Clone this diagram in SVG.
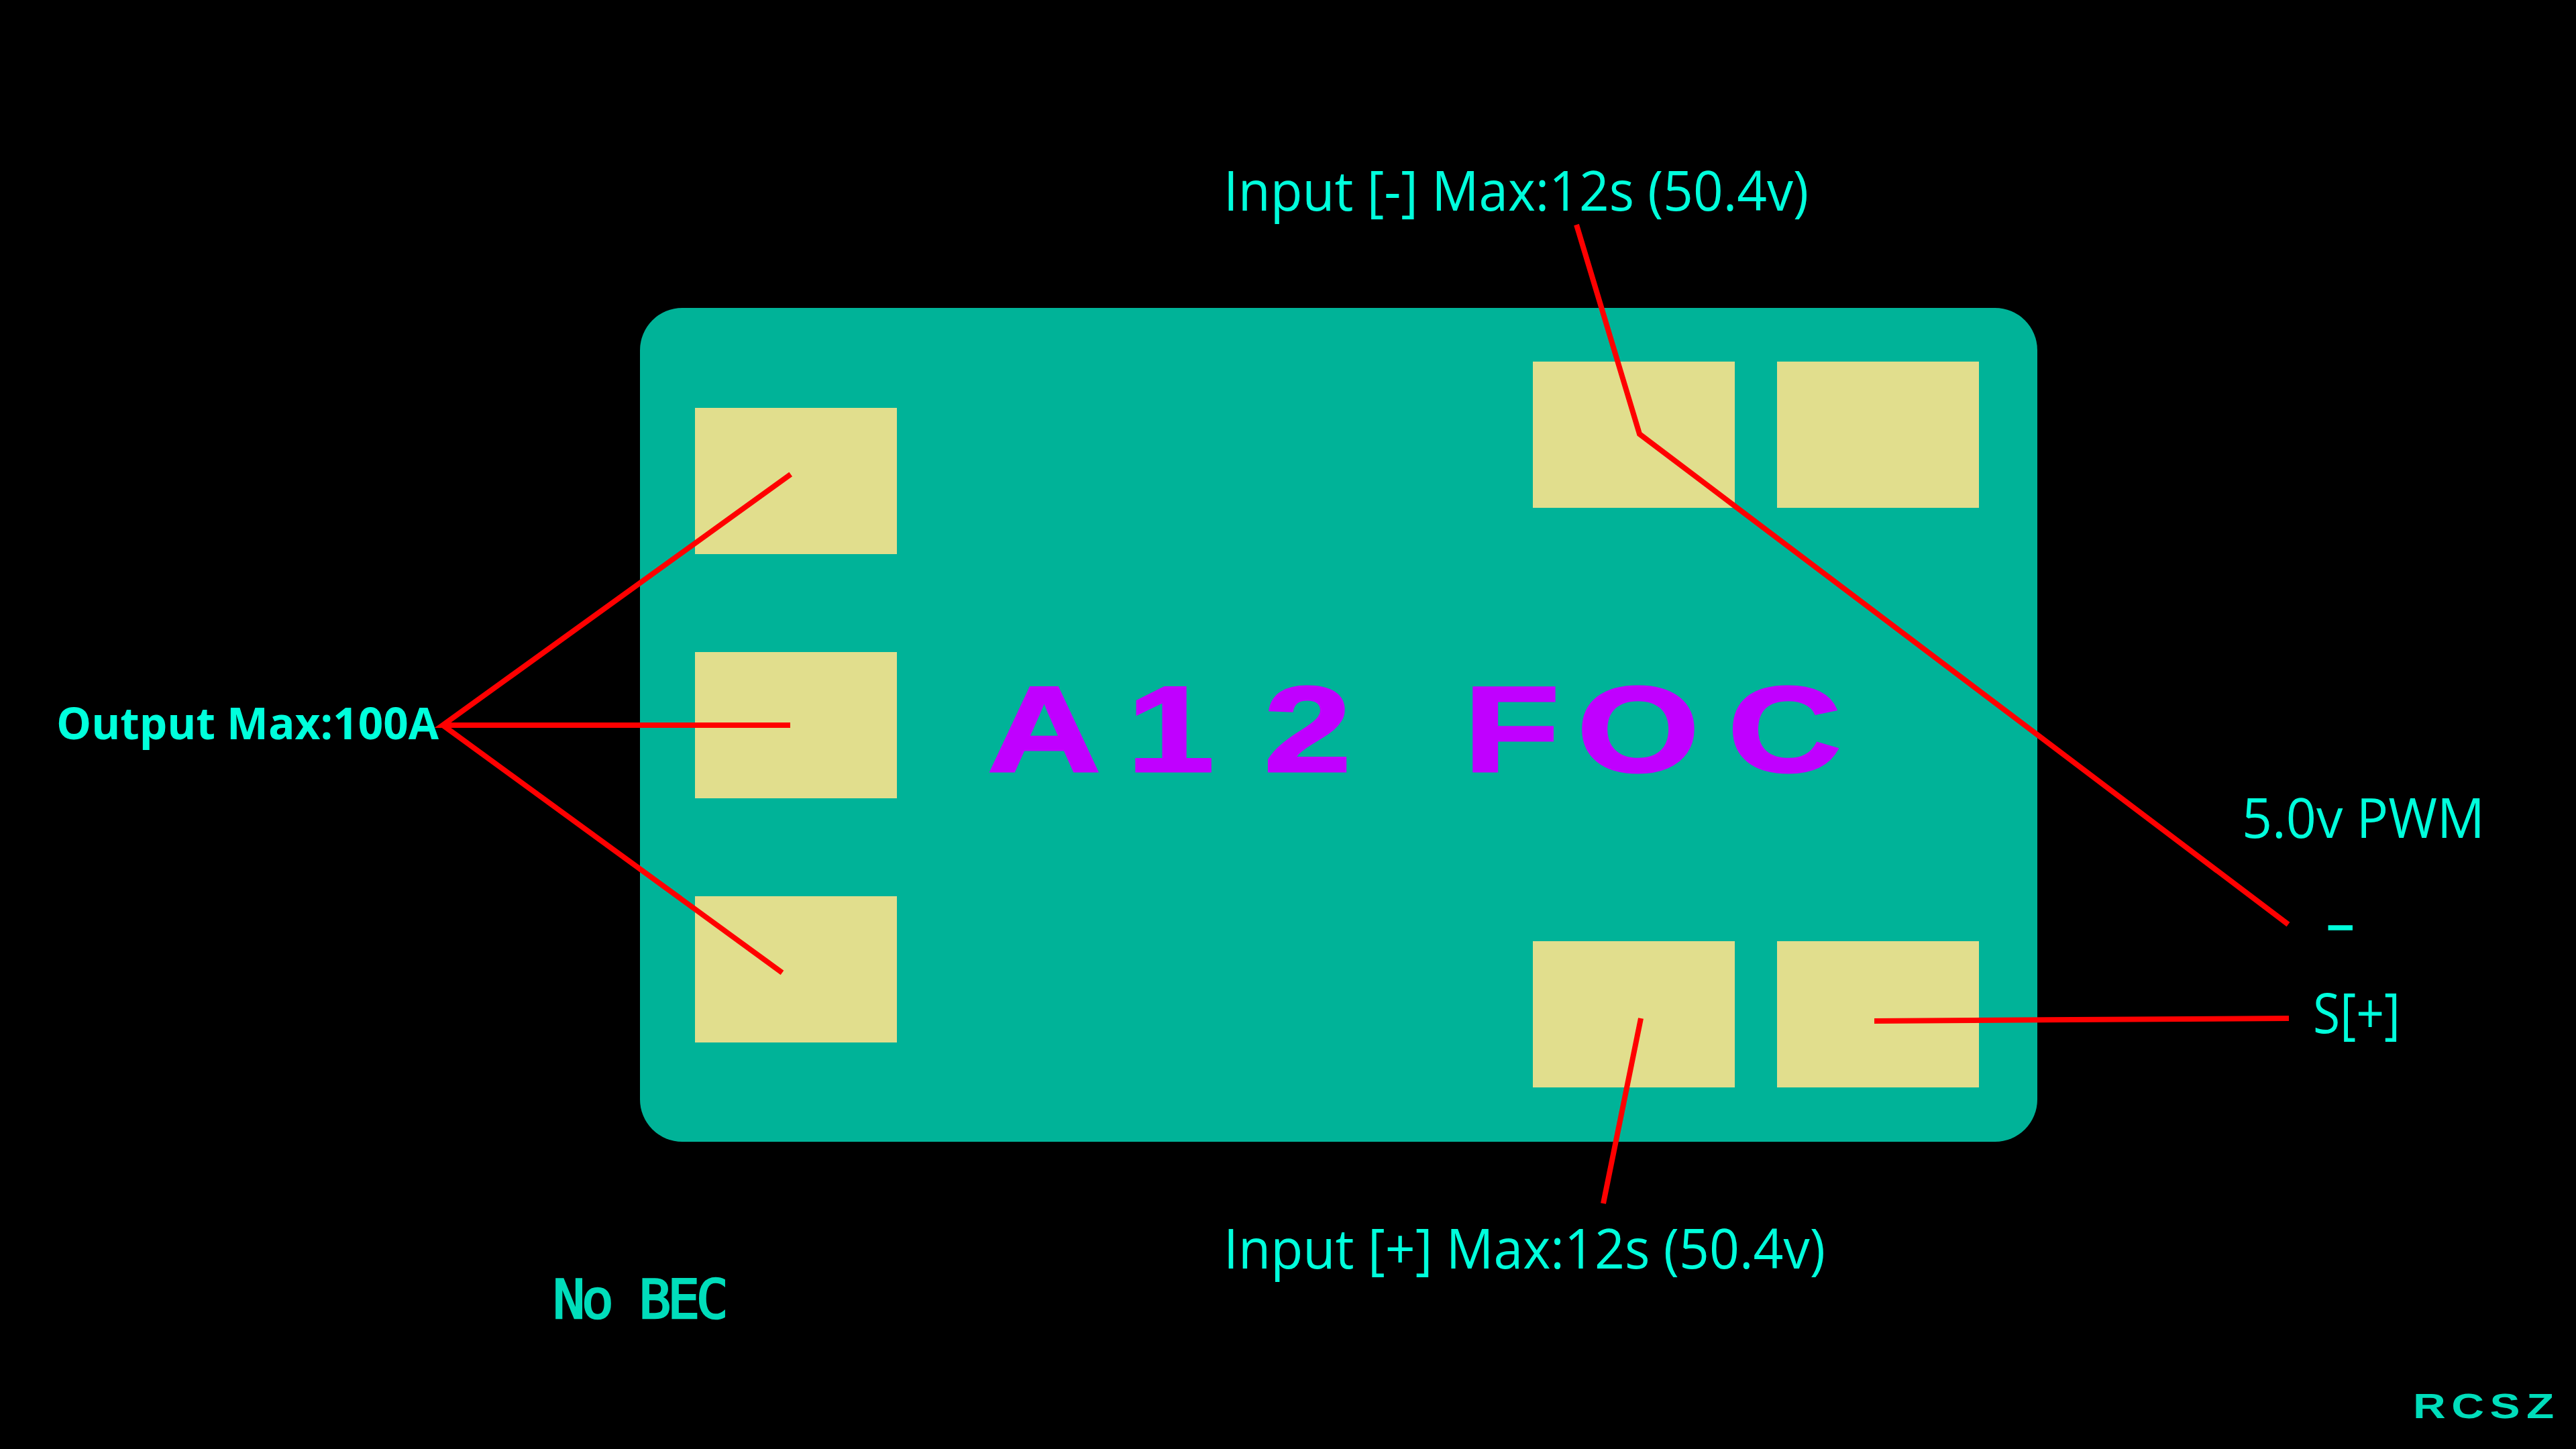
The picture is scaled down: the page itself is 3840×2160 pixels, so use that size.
<svg xmlns="http://www.w3.org/2000/svg" width="3840" height="2160" viewBox="0 0 3840 2160">
<style>
.pad{fill:#E1DE8D}
.lbl{font-family:"Open Sans","Noto Sans",sans-serif;font-size:83px;fill:#00FFDC}
.tech{font-family:"Liberation Sans",Arial,sans-serif;font-weight:700}
.mono{font-family:"DejaVu Sans Mono",monospace;stroke:#00DDBB;stroke-width:2.5}
.wire{fill:none;stroke:#FF0000;stroke-width:8;stroke-linejoin:miter}
</style>
<rect width="3840" height="2160" fill="#000"/>
<g id="board">
<rect x="954" y="459" width="2083" height="1243" rx="63" ry="63" fill="#00B398"/>
<text class="tech" font-size="181" fill="#C000FF" stroke="#C000FF" stroke-width="3" transform="scale(1.3,1)" x="1132 1292 1449 1560 1678 1808 1981" y="1150">A12 FOC</text>
</g>
<g id="pad-out-a"><rect class="pad" x="1036" y="608" width="301" height="218"/></g>
<g id="pad-out-b"><rect class="pad" x="1036" y="972" width="301" height="218"/></g>
<g id="pad-out-c"><rect class="pad" x="1036" y="1336" width="301" height="218"/></g>
<g id="pad-input-neg"><rect class="pad" x="2285" y="539" width="301" height="218"/></g>
<g id="pad-signal-neg"><rect class="pad" x="2649" y="539" width="301" height="218"/></g>
<g id="pad-input-pos"><rect class="pad" x="2285" y="1403" width="301" height="218"/></g>
<g id="pad-signal-pos"><rect class="pad" x="2649" y="1403" width="301" height="218"/></g>
<g id="connectors">
<polyline class="wire" points="1178.7,707 660,1081 1178,1081"/>
<line class="wire" x1="660" y1="1081" x2="1166" y2="1450"/>
<polyline class="wire" points="2350,335 2444,647 3411,1378"/>
<line class="wire" x1="2446" y1="1518" x2="2390" y2="1794"/>
<line class="wire" x1="2794" y1="1522" x2="3412" y2="1518"/>
</g>
<g id="label-output"><text x="84" y="1102" textLength="570" lengthAdjust="spacingAndGlyphs" style="font-family:'Open Sans','Noto Sans',sans-serif;font-size:67px;font-weight:700;fill:#00FFDC">Output Max:100A</text></g>
<g id="label-input-neg"><text class="lbl" x="1824" y="314" textLength="872" lengthAdjust="spacingAndGlyphs">Input [-] Max:12s (50.4v)</text></g>
<g id="label-input-pos"><text class="lbl" x="1824" y="1891" textLength="897" lengthAdjust="spacingAndGlyphs">Input [+] Max:12s (50.4v)</text></g>
<g id="label-pwm"><text class="lbl" x="3342" y="1249" textLength="362" lengthAdjust="spacingAndGlyphs">5.0v PWM</text></g>
<g id="label-minus"><text class="lbl" x="3468" y="1405" stroke="#00FFDC" stroke-width="1.5">–</text></g>
<g id="label-signal"><text class="lbl" x="3448" y="1540" textLength="130" lengthAdjust="spacingAndGlyphs">S[+]</text></g>
<g id="label-nobec"><text class="mono" x="824" y="1965" font-size="80" fill="#00DDBB" textLength="262" lengthAdjust="spacing">No BEC</text></g>
<g id="label-brand"><text class="tech" font-size="52" fill="#00DDBB" transform="scale(1.3,1)" x="2767 2811 2855 2897" y="2114">RCSZ</text></g>
</svg>
